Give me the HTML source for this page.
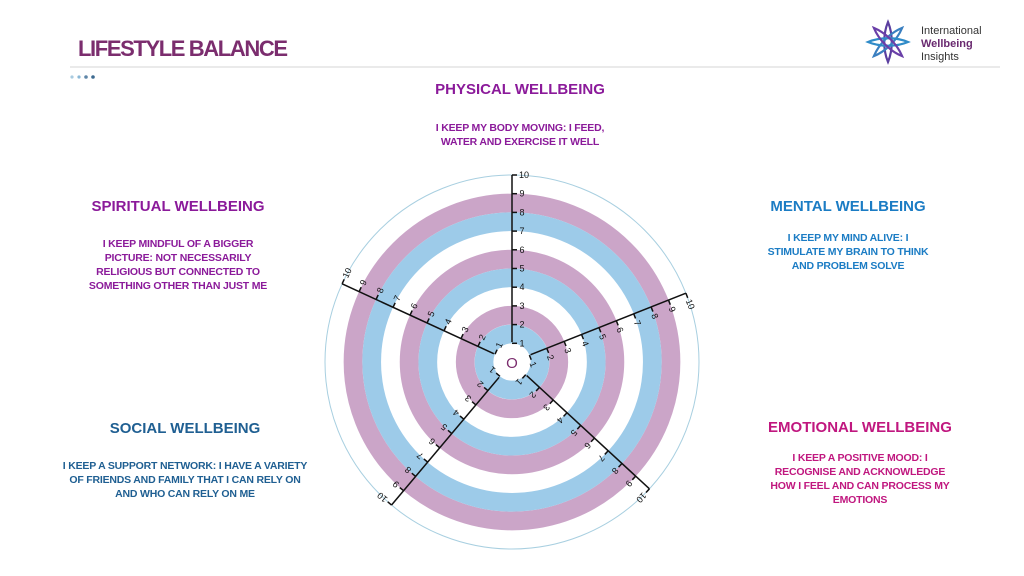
<!DOCTYPE html>
<html><head><meta charset="utf-8"><style>
html,body{margin:0;padding:0;background:#fff;}
svg{display:block}
text{font-family:"Liberation Sans",sans-serif;font-weight:bold}
.h{font-size:15px;text-anchor:middle}
.b{font-size:10.5px;text-anchor:middle;letter-spacing:-0.2px}
.t text{font-size:9px;font-weight:normal;text-anchor:middle;dominant-baseline:central;fill:#111}
.t line{stroke:#111;stroke-width:1.5}
</style></head><body>
<svg width="1024" height="576" viewBox="0 0 1024 576" xmlns="http://www.w3.org/2000/svg">
<text x="78" y="56" style="font-size:22px;fill:#7b2d6e" textLength="210">LIFESTYLE BALANCE</text>
<line x1="70" y1="67" x2="1000" y2="67" stroke="#d4d4d4" stroke-width="1"/>
<circle cx="72" cy="77" r="1.6" fill="#a9cbe0"/><circle cx="79" cy="77" r="1.6" fill="#8ab8d6"/><circle cx="86" cy="77" r="1.8" fill="#5f86a8"/><circle cx="93" cy="77" r="1.8" fill="#3d6a90"/>
<g transform="translate(888,42)">
<g fill="none" stroke-width="2.2">
<path d="M0,-20 C5,-8 5,8 0,20 C-5,8 -5,-8 0,-20Z" stroke="#5b3fa0"/>
<path d="M0,-20 C5,-8 5,8 0,20 C-5,8 -5,-8 0,-20Z" stroke="#3a7fc0" transform="rotate(45)"/>
<path d="M0,-20 C5,-8 5,8 0,20 C-5,8 -5,-8 0,-20Z" stroke="#2f8bc8" transform="rotate(90)"/>
<path d="M0,-20 C5,-8 5,8 0,20 C-5,8 -5,-8 0,-20Z" stroke="#6a3fa8" transform="rotate(135)"/>
</g></g>
<text x="921" y="34" style="font-size:11px;font-weight:normal;fill:#333">International</text>
<text x="921" y="47" style="font-size:11px;fill:#6a2a70">Wellbeing</text>
<text x="921" y="60" style="font-size:11px;font-weight:normal;fill:#333">Insights</text>

<g fill="#8b1a9a">
<text class="h" x="520" y="94">PHYSICAL WELLBEING</text>
<text class="b" x="520" y="131">I KEEP MY BODY MOVING: I FEED,</text>
<text class="b" x="520" y="145">WATER AND EXERCISE IT WELL</text>
<text class="h" x="178" y="211">SPIRITUAL WELLBEING</text>
<text class="b" x="178" y="247">I KEEP MINDFUL OF A BIGGER</text>
<text class="b" x="178" y="261">PICTURE: NOT NECESSARILY</text>
<text class="b" x="178" y="275">RELIGIOUS BUT CONNECTED TO</text>
<text class="b" x="178" y="289">SOMETHING OTHER THAN JUST ME</text>
</g>
<g fill="#1b7cc4">
<text class="h" x="848" y="211">MENTAL WELLBEING</text>
<text class="b" x="848" y="241">I KEEP MY MIND ALIVE: I</text>
<text class="b" x="848" y="255">STIMULATE MY BRAIN TO THINK</text>
<text class="b" x="848" y="269">AND PROBLEM SOLVE</text>
</g>
<g fill="#1f5f92">
<text class="h" x="185" y="433">SOCIAL WELLBEING</text>
<text class="b" x="185" y="469">I KEEP A SUPPORT NETWORK: I HAVE A VARIETY</text>
<text class="b" x="185" y="483">OF FRIENDS AND FAMILY THAT I CAN RELY ON</text>
<text class="b" x="185" y="497">AND WHO CAN RELY ON ME</text>
</g>
<g fill="#c0177f">
<text class="h" x="860" y="432">EMOTIONAL WELLBEING</text>
<text class="b" x="860" y="461">I KEEP A POSITIVE MOOD: I</text>
<text class="b" x="860" y="475">RECOGNISE AND ACKNOWLEDGE</text>
<text class="b" x="860" y="489">HOW I FEEL AND CAN PROCESS MY</text>
<text class="b" x="860" y="503">EMOTIONS</text>
</g>

<g transform="translate(512,362)" fill="none">
<circle r="187" stroke="#a8cfe0" stroke-width="1"/>
<circle r="159" stroke="#cba5c8" stroke-width="18.7"/>
<circle r="140.3" stroke="#9dcbe9" stroke-width="18.7"/>
<circle r="102.9" stroke="#cba5c8" stroke-width="18.7"/>
<circle r="84.2" stroke="#9dcbe9" stroke-width="18.7"/>
<circle r="46.8" stroke="#cba5c8" stroke-width="18.7"/>
<circle r="28" stroke="#9dcbe9" stroke-width="18.7"/>
<circle r="17" fill="#fff" stroke="none"/>
</g>
<text x="512" y="368" style="font-size:15px;font-weight:normal;fill:#7b2d6e;text-anchor:middle">O</text>

<g class="t" transform="translate(512,362) rotate(-90)">
<line x1="20" y1="0" x2="187" y2="0" stroke-width="2.4"/>
<line x1="18.7" y1="0" x2="18.7" y2="5"/><line x1="37.4" y1="0" x2="37.4" y2="5"/><line x1="56.1" y1="0" x2="56.1" y2="5"/><line x1="74.8" y1="0" x2="74.8" y2="5"/><line x1="93.5" y1="0" x2="93.5" y2="5"/><line x1="112.2" y1="0" x2="112.2" y2="5"/><line x1="130.9" y1="0" x2="130.9" y2="5"/><line x1="149.6" y1="0" x2="149.6" y2="5"/><line x1="168.3" y1="0" x2="168.3" y2="5"/><line x1="187" y1="0" x2="187" y2="5"/>
<text transform="translate(18.7,10) rotate(90)">1</text><text transform="translate(37.4,10) rotate(90)">2</text><text transform="translate(56.1,10) rotate(90)">3</text><text transform="translate(74.8,10) rotate(90)">4</text><text transform="translate(93.5,10) rotate(90)">5</text><text transform="translate(112.2,10) rotate(90)">6</text><text transform="translate(130.9,10) rotate(90)">7</text><text transform="translate(149.6,10) rotate(90)">8</text><text transform="translate(168.3,10) rotate(90)">9</text><text transform="translate(187,12) rotate(90)">10</text>
</g>
<g class="t" transform="translate(512,362) rotate(-21.6)">
<line x1="20" y1="0" x2="187" y2="0" stroke-width="2.4"/>
<line x1="18.7" y1="0" x2="18.7" y2="5"/><line x1="37.4" y1="0" x2="37.4" y2="5"/><line x1="56.1" y1="0" x2="56.1" y2="5"/><line x1="74.8" y1="0" x2="74.8" y2="5"/><line x1="93.5" y1="0" x2="93.5" y2="5"/><line x1="112.2" y1="0" x2="112.2" y2="5"/><line x1="130.9" y1="0" x2="130.9" y2="5"/><line x1="149.6" y1="0" x2="149.6" y2="5"/><line x1="168.3" y1="0" x2="168.3" y2="5"/><line x1="187" y1="0" x2="187" y2="5"/>
<text transform="translate(18.7,10) rotate(90)">1</text><text transform="translate(37.4,10) rotate(90)">2</text><text transform="translate(56.1,10) rotate(90)">3</text><text transform="translate(74.8,10) rotate(90)">4</text><text transform="translate(93.5,10) rotate(90)">5</text><text transform="translate(112.2,10) rotate(90)">6</text><text transform="translate(130.9,10) rotate(90)">7</text><text transform="translate(149.6,10) rotate(90)">8</text><text transform="translate(168.3,10) rotate(90)">9</text><text transform="translate(187,12) rotate(90)">10</text>
</g>
<g class="t" transform="translate(512,362) rotate(42.7)">
<line x1="20" y1="0" x2="187" y2="0" stroke-width="2.4"/>
<line x1="18.7" y1="0" x2="18.7" y2="5"/><line x1="37.4" y1="0" x2="37.4" y2="5"/><line x1="56.1" y1="0" x2="56.1" y2="5"/><line x1="74.8" y1="0" x2="74.8" y2="5"/><line x1="93.5" y1="0" x2="93.5" y2="5"/><line x1="112.2" y1="0" x2="112.2" y2="5"/><line x1="130.9" y1="0" x2="130.9" y2="5"/><line x1="149.6" y1="0" x2="149.6" y2="5"/><line x1="168.3" y1="0" x2="168.3" y2="5"/><line x1="187" y1="0" x2="187" y2="5"/>
<text transform="translate(18.7,10) rotate(90)">1</text><text transform="translate(37.4,10) rotate(90)">2</text><text transform="translate(56.1,10) rotate(90)">3</text><text transform="translate(74.8,10) rotate(90)">4</text><text transform="translate(93.5,10) rotate(90)">5</text><text transform="translate(112.2,10) rotate(90)">6</text><text transform="translate(130.9,10) rotate(90)">7</text><text transform="translate(149.6,10) rotate(90)">8</text><text transform="translate(168.3,10) rotate(90)">9</text><text transform="translate(187,12) rotate(90)">10</text>
</g>
<g class="t" transform="translate(512,362) rotate(130.1)">
<line x1="20" y1="0" x2="187" y2="0" stroke-width="2.4"/>
<line x1="18.7" y1="0" x2="18.7" y2="5"/><line x1="37.4" y1="0" x2="37.4" y2="5"/><line x1="56.1" y1="0" x2="56.1" y2="5"/><line x1="74.8" y1="0" x2="74.8" y2="5"/><line x1="93.5" y1="0" x2="93.5" y2="5"/><line x1="112.2" y1="0" x2="112.2" y2="5"/><line x1="130.9" y1="0" x2="130.9" y2="5"/><line x1="149.6" y1="0" x2="149.6" y2="5"/><line x1="168.3" y1="0" x2="168.3" y2="5"/><line x1="187" y1="0" x2="187" y2="5"/>
<text transform="translate(18.7,10) rotate(90)">1</text><text transform="translate(37.4,10) rotate(90)">2</text><text transform="translate(56.1,10) rotate(90)">3</text><text transform="translate(74.8,10) rotate(90)">4</text><text transform="translate(93.5,10) rotate(90)">5</text><text transform="translate(112.2,10) rotate(90)">6</text><text transform="translate(130.9,10) rotate(90)">7</text><text transform="translate(149.6,10) rotate(90)">8</text><text transform="translate(168.3,10) rotate(90)">9</text><text transform="translate(187,12) rotate(90)">10</text>
</g>
<g class="t" transform="translate(512,362) rotate(204.7)">
<line x1="20" y1="0" x2="187" y2="0" stroke-width="2.4"/>
<line x1="18.7" y1="0" x2="18.7" y2="5"/><line x1="37.4" y1="0" x2="37.4" y2="5"/><line x1="56.1" y1="0" x2="56.1" y2="5"/><line x1="74.8" y1="0" x2="74.8" y2="5"/><line x1="93.5" y1="0" x2="93.5" y2="5"/><line x1="112.2" y1="0" x2="112.2" y2="5"/><line x1="130.9" y1="0" x2="130.9" y2="5"/><line x1="149.6" y1="0" x2="149.6" y2="5"/><line x1="168.3" y1="0" x2="168.3" y2="5"/><line x1="187" y1="0" x2="187" y2="5"/>
<text transform="translate(18.7,10) rotate(90)">1</text><text transform="translate(37.4,10) rotate(90)">2</text><text transform="translate(56.1,10) rotate(90)">3</text><text transform="translate(74.8,10) rotate(90)">4</text><text transform="translate(93.5,10) rotate(90)">5</text><text transform="translate(112.2,10) rotate(90)">6</text><text transform="translate(130.9,10) rotate(90)">7</text><text transform="translate(149.6,10) rotate(90)">8</text><text transform="translate(168.3,10) rotate(90)">9</text><text transform="translate(187,12) rotate(90)">10</text>
</g>
</svg>
</body></html>
